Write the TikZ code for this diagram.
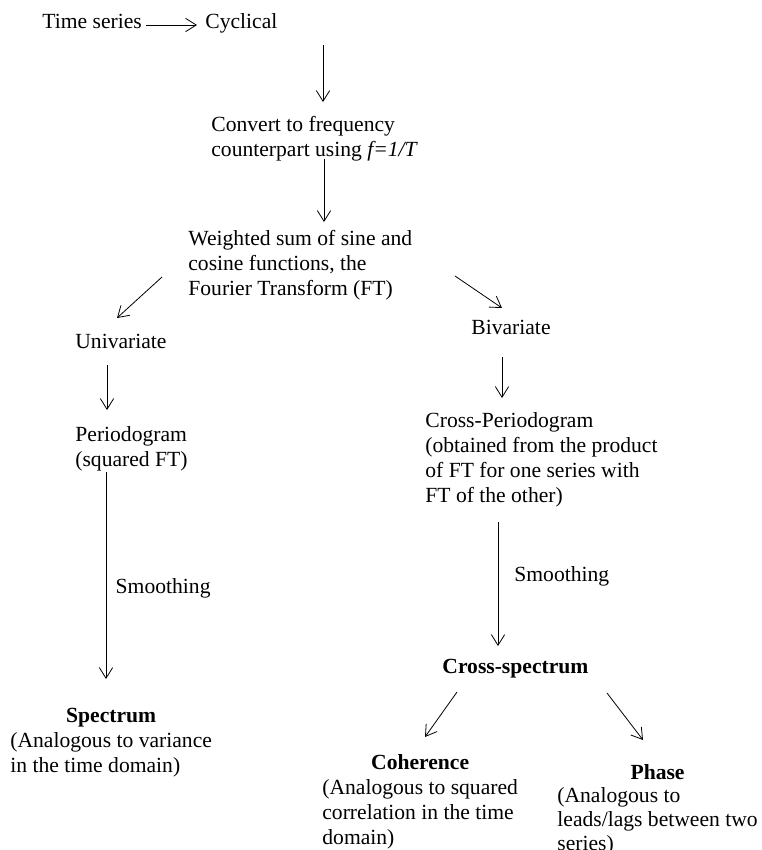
\documentclass[tikz,border=0pt]{standalone}
\usepackage{fontspec}
\setmainfont{Liberation Serif}
\usepackage{tikz}
\usetikzlibrary{arrows.meta,calc}
\tikzset{every picture/.style={>={Straight Barb[length=8pt,width=10pt]}},
  txt/.style={inner sep=0pt,anchor=base west},
  lab/.style={inner sep=0pt}}
\newcommand{\lines}[1]{\begin{tabular}[t]{@{}l@{}}#1\end{tabular}}
\newcommand{\result}[2]{\lines{\multicolumn{1}{@{}c@{}}{\textbf{#1}}\\ #2}}

\begin{document}
\begin{tikzpicture}[x=0.75pt,y=0.75pt,yscale=-1,line width=0.6pt,
  every node/.style={font=\fontsize{16.2}{18.75}\selectfont}]
  \useasboundingbox (0,0) rectangle (762,850);
  \node (ts) [txt] at (42,28) {Time series};
  \node (cyc) [txt] at (205,28) {Cyclical};
  \node (conv) [txt] at (211,131) {\lines{Convert to frequency\\counterpart using \textit{f=1/T}}};
  \node (weigh) [txt] at (188,245) {\lines{Weighted sum of sine and\\cosine functions, the\\Fourier Transform (FT)}};
  \node (univ) [txt] at (75,348) {Univariate};
  \node (biv) [txt] at (471,334) {Bivariate};
  \node (per) [txt] at (75,441) {\lines{Periodogram\\(squared FT)}};
  \node (cper) [txt] at (425,427) {\lines{Cross-Periodogram\\(obtained from the product\\of FT for one series with\\FT of the other)}};
  \node (cspec) [txt] at (442,673) {\textbf{Cross-spectrum}};
  \node (spec) [txt] at (10,722) {\result{Spectrum}{(Analogous to variance\\in the time domain)}};
  \node (coh) [txt] at (322,769) {\result{Coherence}{(Analogous to squared\\correlation in the time\\domain)}};
  \node (pha) [txt] at (557,779) {\renewcommand{\arraystretch}{0.95}\result{Phase}{(Analogous to\\leads/lags between two\\series)}};
  % arrows
  \draw [->] ($(ts.base east)+(4,-3)$) -- ($(cyc.base west)+(-8,-3)$);
  \draw [->] ($(cyc.base west)+(118,17)$) -- ($(conv.base west)+(112,-29)$);
  \draw [->] ($(conv.base west)+(113,28)$) -- ($(weigh.base west)+(136,-23)$);
  \draw [->] ($(weigh.base west)+(-26,32)$) -- ($(univ.base west)+(42,-30)$);
  \draw [->] ($(weigh.base west)+(267,31)$) -- ($(biv.base west)+(31,-26)$);
  \draw [->] ($(univ.base west)+(32,17)$) -- ($(per.base west)+(32,-31)$);
  \draw [->] ($(biv.base west)+(31,23)$) -- ($(cper.base west)+(77,-29)$);
  \draw [->] ($(per.base west)+(31,31)$) -- node[lab,right=7pt,pos=0.56] (smL) {Smoothing} ($(spec.base west)+(96,-43)$);
  \draw [->] ($(cper.base west)+(73,95)$) -- node[lab,right=12pt,pos=0.44] (smR) {Smoothing} ($(cspec.base west)+(56,-27)$);
  \draw [->] ($(cspec.base west)+(15,19)$) -- ($(coh.base west)+(103,-32)$);
  \draw [->] ($(cspec.base west)+(165,20)$) -- ($(pha.base west)+(86,-39)$);
\end{tikzpicture}
\end{document}
